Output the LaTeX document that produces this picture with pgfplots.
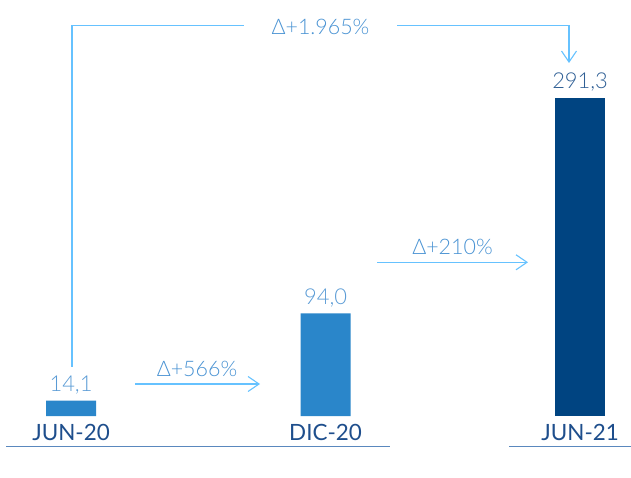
\documentclass[border=0pt]{standalone}
\usepackage{fontspec}
\setmainfont{Lato Light}
\newfontfamily\latoreg{Lato}
\usepackage{pgfplots}
\pgfplotsset{compat=1.18}
\usetikzlibrary{arrows.meta}

\definecolor{barlight}{HTML}{2A86CA}
\definecolor{bardark}{HTML}{004481}
\definecolor{arrowblue}{HTML}{66C2FF}
\definecolor{deltablue}{HTML}{4A93D3}
\definecolor{labeldark}{HTML}{1E4E8C}
\definecolor{vallight}{HTML}{5A9BD5}
\definecolor{valdark}{HTML}{2F5F95}
\definecolor{baseblue}{HTML}{5A88BE}

\begin{document}
\begin{tikzpicture}
\useasboundingbox (0,0) rectangle (631bp,478bp);
\begin{axis}[
  at={(0,62bp)}, anchor=south west,
  scale only axis, width=631bp, height=416bp,
  xmin=-0.279, xmax=2.200, ymin=0, ymax=381,
  ybar, bar width=50bp, bar shift=0pt,
  axis line style={draw=none}, major tick length=0pt,
  ytick=\empty, xtick={0,1,2}, xticklabels={JUN-20,DIC-20,JUN-21},
  xticklabel style={font=\latoreg\fontsize{22.5}{26}\selectfont, text=labeldark, anchor=base, yshift=-24.5bp},
  nodes near coords,
  nodes near coords style={font=\fontsize{22}{24}\selectfont, anchor=base, yshift=9bp},
  /pgf/number format/.cd, use comma, fixed, fixed zerofill, precision=1, assume math mode=true,
  /pgfplots/.cd,
  clip=false
]
\addplot[fill=barlight, draw=none, every node near coord/.append style={text=vallight}]
  coordinates {(0,14.1) (1,94.0)};
\addplot[fill=bardark, draw=none, every node near coord/.append style={text=valdark}]
  coordinates {(2,291.3)};
\end{axis}

% baselines under the categories
\draw[baseblue, line width=1.4bp] (6bp,31.3bp) -- (390bp,31.3bp);
\draw[baseblue, line width=1.4bp] (509bp,31.3bp) -- (631bp,31.3bp);

% growth arrows
\tikzset{garrow/.style={arrowblue, line width=1.1bp, -{Straight Barb[length=11bp, width=15bp, line width=1.1bp]}}}
\draw[arrowblue, line width=1.1bp] (72bp,111bp) -- (72bp,452.7bp) -- (244bp,452.7bp);
\draw[garrow] (397bp,452.7bp) -- (569bp,452.7bp) -- (569bp,415bp);
\node[anchor=base, text=deltablue, font=\fontsize{21.5}{24}\selectfont, inner sep=0pt] at (320.5bp,443bp) {Δ+1.965\%};

\draw[garrow] (135bp,94bp) -- (260bp,94bp);
\node[anchor=base, text=deltablue, font=\fontsize{21.5}{24}\selectfont, inner sep=0pt] at (197bp,101bp) {Δ+566\%};

\draw[garrow] (377bp,215.7bp) -- (528bp,215.7bp);
\node[anchor=base, text=deltablue, font=\fontsize{21.5}{24}\selectfont, inner sep=0pt] at (452.5bp,223bp) {Δ+210\%};
\end{tikzpicture}
\end{document}
